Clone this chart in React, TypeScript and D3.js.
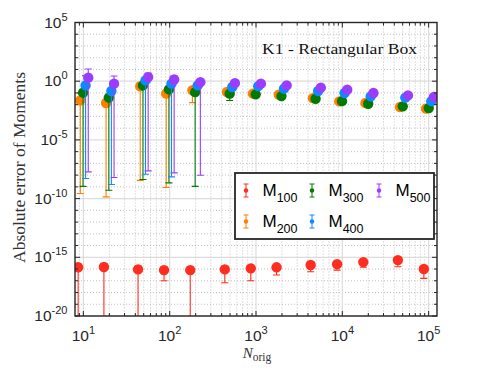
import React from 'react';
import * as d3 from 'd3';

// N_orig for each run (x positions of the M100 points)
const nOrig = [8.7, 17.3, 43, 86, 173, 435, 870, 1730, 4300, 8700, 17500, 44000, 88000];

// small horizontal dodge per series so the markers don't sit on top of each other
const seriesNames = ['100', '200', '300', '400', '500'];
const seriesColors = ['#ff2d1f', '#ff7f00', '#007a00', '#1188ff', '#9b3dff'];
const xDodge = [1, 1.06, 1.14, 1.22, 1.31];

// values, lower and upper ends of the error bars (0 = bar runs off the axis)
const m100 = [1.4e-16, 1.5e-16, 9.3e-17, 8.1e-17, 8.1e-17, 9.3e-17, 1.15e-16, 1.4e-16, 2.2e-16, 2.6e-16, 3.9e-16, 5.8e-16, 1.0e-16];
const m100Lo = [0, 0, 0, 1e-17, 0, 6.8e-18, 1e-17, 3.1e-17, 5.9e-17, 8.1e-17, 1.4e-16, 1.55e-16, 1.6e-17];
const m100Hi = [2.6e-16, 2.8e-16, 1.7e-16, 1.5e-16, 1.5e-16, 1.7e-16, 2.1e-16, 2.5e-16, 3.8e-16, 4.4e-16, 6.4e-16, 9.5e-16, 1.8e-16];

const m200 = [0.023, 0.014, 0.36, 0.087, 0.17, 0.12, 0.087, 0.071, 0.036, 0.019, 0.014, 0.0063, 0.0046];
const m200Lo = [2.7e-10, 1.4e-10, 3.6e-9, 8.7e-10, 0.015, 0.08, 0.06, 0.05, 0.025, 0.013, 0.01, 0.0045, 0.0032];
const m200Hi = [0.098, 0.025, 0.76, 0.14, 0.27, 0.19, 0.14, 0.11, 0.058, 0.03, 0.022, 0.01, 0.0074];

const m300 = [0.105, 0.04, 0.44, 0.2, 0.117, 0.087, 0.076, 0.054, 0.032, 0.02, 0.012, 0.0072, 0.0051];
const m300Lo = [1.1e-9, 5.1e-10, 4.2e-9, 2.2e-9, 1.1e-9, 0.023, 0.045, 0.035, 0.02, 0.013, 0.008, 0.0047, 0.0033];
const m300Hi = [0.16, 0.06, 0.66, 0.3, 0.18, 0.13, 0.11, 0.08, 0.048, 0.03, 0.018, 0.011, 0.0077];

const m400 = [0.44, 0.145, 1.17, 0.62, 0.44, 0.32, 0.38, 0.23, 0.145, 0.098, 0.051, 0.04, 0.02];
const m400Lo = [5.1e-9, 1.6e-9, 1.2e-8, 7.1e-9, 0.25, 0.2, 0.25, 0.15, 0.095, 0.065, 0.033, 0.026, 0.013];
const m400Hi = [3.0, 0.22, 1.8, 0.93, 0.66, 0.48, 0.57, 0.35, 0.22, 0.15, 0.077, 0.06, 0.03];

const m500 = [2.0, 0.62, 2.24, 1.41, 0.83, 0.69, 0.62, 0.44, 0.28, 0.19, 0.098, 0.062, 0.045];
const m500Lo = [1.9e-8, 6.2e-9, 2.3e-8, 1.55e-8, 9.8e-9, 0.45, 0.4, 0.29, 0.18, 0.12, 0.064, 0.04, 0.029];
const m500Hi = [11, 2.8, 4.9, 2.8, 1.25, 1.0, 0.93, 0.66, 0.42, 0.29, 0.15, 0.093, 0.068];

const seriesVals = [m100, m200, m300, m400, m500];
const seriesLo = [m100Lo, m200Lo, m300Lo, m400Lo, m500Lo];
const seriesHi = [m100Hi, m200Hi, m300Hi, m400Hi, m500Hi];

const xTickExp = [1, 2, 3, 4, 5];
const yTickExp = [-20, -15, -10, -5, 0, 5];

const W = 493;
const H = 381;
const L = 75, R = 437, T = 22.5, B = 316;

const sans = '"Liberation Sans", Arial, Helvetica, sans-serif';
const serif = '"Liberation Serif", "Times New Roman", serif';
const axisCol = '#262626';

// legend layout: column / row of each entry (MATLAB fills rows first here)
const legendCol = [0, 0, 1, 1, 2];
const legendRow = [0, 1, 0, 1, 0];

export default function App() {
  const x = d3.scaleLog().domain([8, 1.25e5]).range([L, R]);
  const y = d3.scaleLog().domain([1e-20, 1e5]).range([B, T]);

  const [x0, x1] = x.domain();
  const xMinor: number[] = [];
  for (let e = 0; e <= 5; e++) {
    for (let k = 2; k <= 9; k++) {
      const v = k * Math.pow(10, e);
      if (v > x0 && v < x1) xMinor.push(v);
    }
  }
  const yMinor: number[] = [];
  for (let e = -19; e <= 4; e++) if (e % 5 !== 0) yMinor.push(Math.pow(10, e));

  const cap = 3.5;
  const r = 5.2;

  return (
    <svg width={W} height={H} style={{ position: 'absolute', left: 0, top: 0, background: '#fff' }}>
      <defs>
        <clipPath id="plotClip">
          <rect x={L} y={T} width={R - L} height={B - T} />
        </clipPath>
      </defs>
      <rect x={0} y={0} width={W} height={H} fill="#fff" />

      {/* grid */}
      <g>
        {xMinor.map((v, i) => (
          <line key={'xm' + i} x1={x(v)} x2={x(v)} y1={T} y2={B} stroke="#b3b3b3" strokeWidth={0.8} strokeDasharray="1 2" />
        ))}
        {yMinor.map((v, i) => (
          <line key={'ym' + i} x1={L} x2={R} y1={y(v)} y2={y(v)} stroke="#b3b3b3" strokeWidth={0.8} strokeDasharray="1 2" />
        ))}
        {xTickExp.map(e => (
          <line key={'xg' + e} x1={x(10 ** e)} x2={x(10 ** e)} y1={T} y2={B} stroke="#dcdcdc" strokeWidth={1.2} />
        ))}
        {yTickExp.map(e => (
          <line key={'yg' + e} x1={L} x2={R} y1={y(10 ** e)} y2={y(10 ** e)} stroke="#dcdcdc" strokeWidth={1.2} />
        ))}
      </g>

      {/* error bars + markers */}
      <g clipPath="url(#plotClip)">
        {seriesVals.map((vals, s) => {
          const c = seriesColors[s];
          return (
            <g key={'s' + s}>
              {vals.map((v, i) => {
                const cx = x(nOrig[i] * xDodge[s]);
                const lo = seriesLo[s][i];
                const yLo = lo > 0 ? y(lo) : B + 10;
                const yHi = y(seriesHi[s][i]);
                return (
                  <g key={i}>
                    <line x1={cx} x2={cx} y1={yLo} y2={yHi} stroke={c} strokeWidth={1.1} />
                    {lo > 0 && <line x1={cx - cap} x2={cx + cap} y1={yLo} y2={yLo} stroke={c} strokeWidth={1.1} />}
                    <line x1={cx - cap} x2={cx + cap} y1={yHi} y2={yHi} stroke={c} strokeWidth={1.1} />
                    <circle cx={cx} cy={y(v)} r={r} fill={c} />
                  </g>
                );
              })}
            </g>
          );
        })}
      </g>

      {/* ticks */}
      <g stroke={axisCol} strokeWidth={1}>
        {xTickExp.map(e => {
          const px = x(10 ** e);
          return (
            <g key={'xt' + e}>
              <line x1={px} x2={px} y1={B} y2={B - 5} />
              <line x1={px} x2={px} y1={T} y2={T + 5} />
            </g>
          );
        })}
        {xMinor.map((v, i) => (
          <g key={'xmt' + i}>
            <line x1={x(v)} x2={x(v)} y1={B} y2={B - 3} />
            <line x1={x(v)} x2={x(v)} y1={T} y2={T + 3} />
          </g>
        ))}
        {yTickExp.map(e => {
          const py = y(10 ** e);
          return (
            <g key={'yt' + e}>
              <line x1={L} x2={L + 5} y1={py} y2={py} />
              <line x1={R} x2={R - 5} y1={py} y2={py} />
            </g>
          );
        })}
        {yMinor.map((v, i) => (
          <g key={'ymt' + i}>
            <line x1={L} x2={L + 3} y1={y(v)} y2={y(v)} />
            <line x1={R} x2={R - 3} y1={y(v)} y2={y(v)} />
          </g>
        ))}
      </g>

      {/* axes box */}
      <rect x={L} y={T} width={R - L} height={B - T} fill="none" stroke={axisCol} strokeWidth={1.4} />

      {/* tick labels */}
      <g fill={axisCol} fontFamily={sans}>
        {xTickExp.map(e => (
          <text key={'xl' + e} x={x(10 ** e)} y={341} textAnchor="middle" fontSize={15.5}>
            <tspan>10</tspan>
            <tspan dy={-7} fontSize={11}>{e}</tspan>
          </text>
        ))}
        {yTickExp.map(e => (
          <text key={'yl' + e} x={67.5} y={y(10 ** e) + 5} textAnchor="end" fontSize={15.5}>
            <tspan>10</tspan>
            <tspan dy={-7} fontSize={11}>{e < 0 ? '-' + -e : e}</tspan>
          </text>
        ))}
      </g>

      {/* axis labels */}
      <text
        transform={`translate(25,167.5) rotate(-90)`}
        textAnchor="middle"
        fontFamily={serif}
        fontSize={16}
        fill="#333"
        textLength={191}
        lengthAdjust="spacingAndGlyphs"
      >
        Absolute error of Moments
      </text>
      <text x={257} y={358} textAnchor="middle" fontFamily={serif} fill="#333">
        <tspan fontSize={15} fontStyle="italic">N</tspan>
        <tspan fontSize={11.5} dy={3}>orig</tspan>
      </text>

      {/* annotation */}
      <text x={262} y={54} fontFamily={serif} fontSize={15.5} fill="#111" textLength={155} lengthAdjust="spacingAndGlyphs">
        K1 - Rectangular Box
      </text>

      {/* legend */}
      <g>
        <rect x={235} y={173} width={199} height={66} fill="#fff" stroke={axisCol} strokeWidth={1.8} />
        {seriesNames.map((name, s) => {
          const ix = [246, 312, 379][legendCol[s]];
          const iy = [190.5, 221.5][legendRow[s]];
          const c = seriesColors[s];
          return (
            <g key={'lg' + s}>
              <line x1={ix} x2={ix} y1={iy - 6.5} y2={iy + 6.5} stroke={c} strokeWidth={1} />
              <line x1={ix - 2.5} x2={ix + 2.5} y1={iy - 6.5} y2={iy - 6.5} stroke={c} strokeWidth={1} />
              <line x1={ix - 2.5} x2={ix + 2.5} y1={iy + 6.5} y2={iy + 6.5} stroke={c} strokeWidth={1} />
              <circle cx={ix} cy={iy} r={2.2} fill={c} />
              <text x={ix + 16.5} y={iy + 5} fontFamily={sans} fontSize={17} fill="#000">
                <tspan>M</tspan>
                <tspan fontSize={12.5} dy={6}>{name}</tspan>
              </text>
            </g>
          );
        })}
      </g>
    </svg>
  );
}
